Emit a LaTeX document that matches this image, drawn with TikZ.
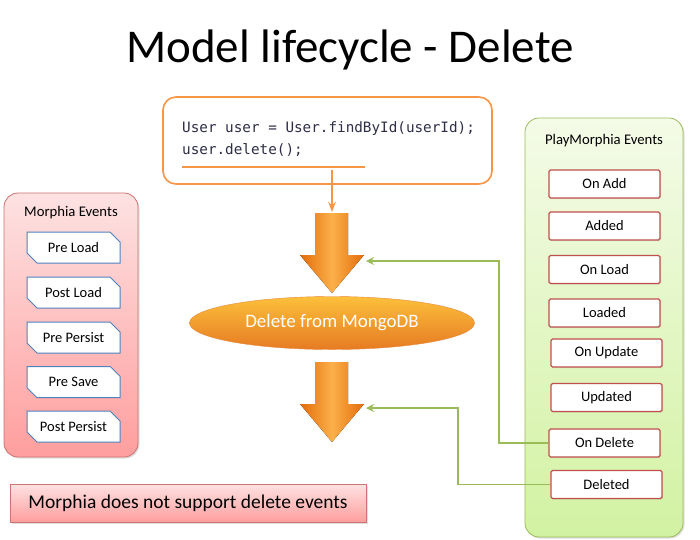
\documentclass[tikz,border=0pt]{standalone}
\usepackage{fontspec}
\setmainfont{Carlito}
\setmonofont{DejaVu Sans Mono}
\usetikzlibrary{positioning,shapes.geometric,shapes.misc,arrows.meta,shadows}
\tikzset{>=Stealth}
\definecolor{codeorange}{HTML}{F79646}
\definecolor{darkorange}{HTML}{E36C0A}
\definecolor{liteorange}{HTML}{FBB04A}
\definecolor{evgreen}{HTML}{9BBB59}
\definecolor{evred}{HTML}{C0504D}
\definecolor{evblue}{HTML}{4F81BD}
\definecolor{pinktop}{HTML}{FDE2E2}
\definecolor{pinkbot}{HTML}{FF9E9E}
\definecolor{greentop}{HTML}{F4FBE8}
\definecolor{greenbot}{HTML}{D2F2A2}
\definecolor{codeink}{HTML}{2E2E48}
\tikzset{
  group/.style={draw,rounded corners=14pt,line width=0.8pt,drop shadow={opacity=0.25,shadow xshift=1.5pt,shadow yshift=-1.5pt}},
  morphia/.style={group,draw=evred!80,top color=pinktop,bottom color=pinkbot},
  playm/.style={group,draw=evgreen,top color=greentop,bottom color=greenbot},
  mevent/.style={chamfered rectangle,chamfered rectangle corners={north east,south west},
    chamfered rectangle xsep=5pt,chamfered rectangle ysep=5pt,
    draw=evblue,line width=1pt,fill=white,minimum width=93pt,minimum height=31pt,
    inner sep=0pt,font=\fontsize{14.5}{17}\selectfont},
  pevent/.style={rectangle,rounded corners=1.5pt,draw=evred,line width=1.2pt,fill=white,
    minimum width=111pt,minimum height=28pt,inner sep=0pt,font=\fontsize{14.5}{17}\selectfont,
    drop shadow={opacity=0.2,shadow xshift=1pt,shadow yshift=-1pt}},
  heading/.style={font=\fontsize{14.7}{17}\selectfont},
  gline/.style={draw=evgreen,line width=1.6pt,-{Stealth[length=8pt,width=8pt]}},
  blockarrow/.style={left color=darkorange,right color=darkorange,middle color=liteorange,draw=none},
}
\newcommand*{\downblock}[1]{%
  \fill[blockarrow] (315,#1) -- (348,#1) -- (348,#1+42) -- (364,#1+42)
    -- (332,#1+80) -- (300,#1+42) -- (315,#1+42) -- cycle;}

\begin{document}
\begin{tikzpicture}[x=1pt,y=-1pt]
\useasboundingbox[fill=white] (0,0) rectangle (700,539);
% title
\node (title) at (350,50) {\fontsize{47}{56}\selectfont Model lifecycle - Delete};
% code snippet
\node[draw=codeorange,line width=1.6pt,rounded corners=13pt,fill=white,
  minimum width=329pt,minimum height=87pt] (code) at (327.5,140.5) {};
\node[anchor=west,align=left,inner sep=0pt,text=codeink,
  font=\ttfamily\fontsize{14.3}{22}\selectfont] (codetxt) at (182,139)
  {User user = User.findById(userId);\\user.delete();};
\draw[codeorange,line width=1.6pt] (182,167) -- (365,167);
\coordinate (callpt) at (332,170);
\coordinate (blocktop) at (332,212);
\draw[codeorange,line width=1.6pt,->] (callpt) -- (blocktop);
% flow
\downblock{213}
\node[ellipse,minimum width=285pt,minimum height=53pt,draw=darkorange!80,
  top color=liteorange!80!yellow,bottom color=darkorange!90,text=white,
  font=\fontsize{19}{22}\selectfont] (db) at (332,323) {Delete from MongoDB};
\downblock{362}
\coordinate (in1) at (366,261);
\coordinate (in2) at (366,408);
% Morphia events
\node[morphia,minimum width=134pt,minimum height=264pt] (mbox) at (71,325) {};
\node[heading] (mtitle) at (71,213) {Morphia Events};
\node[mevent] (preload) at (73.5,247.5) {Pre Load};
\node[mevent] (postload) at (73.5,292.5) {Post Load};
\node[mevent] (prepersist) at (73.5,337.5) {Pre Persist};
\node[mevent] (presave) at (73.5,382) {Pre Save};
\node[mevent] (postpersist) at (73.5,426.5) {Post Persist};
% PlayMorphia events
\node[playm,minimum width=158pt,minimum height=419pt] (pbox) at (604,327.5) {};
\node[heading] (ptitle) at (604,141) {PlayMorphia Events};
\node[pevent] (onadd) at (604.5,184) {On Add};
\node[pevent] (added) at (604.5,226) {Added};
\node[pevent] (onload) at (604.5,269.5) {On Load};
\node[pevent] (loaded) at (604.5,313) {Loaded};
\node[pevent] (onupdate) at (606.5,353) {On Update};
\node[pevent] (updated) at (606.5,397.5) {Updated};
\node[pevent] (ondelete) at (604.5,443) {On Delete};
\node[pevent] (deleted) at (606.5,484.5) {Deleted};
% hooks
\draw[gline] (ondelete.west) -- (499,443) |- (in1);
\draw[gline] (deleted.west) -- (458,484.5) |- (in2);
% note
\node[draw=evred!80,line width=0.8pt,top color=pinktop,bottom color=pinkbot,
  minimum width=356pt,minimum height=38pt,
  drop shadow={opacity=0.25,shadow xshift=1.5pt,shadow yshift=-1.5pt},
  font=\fontsize{19.5}{23}\selectfont] (note) at (188,503) {Morphia does not support delete events};
\end{tikzpicture}
\end{document}
